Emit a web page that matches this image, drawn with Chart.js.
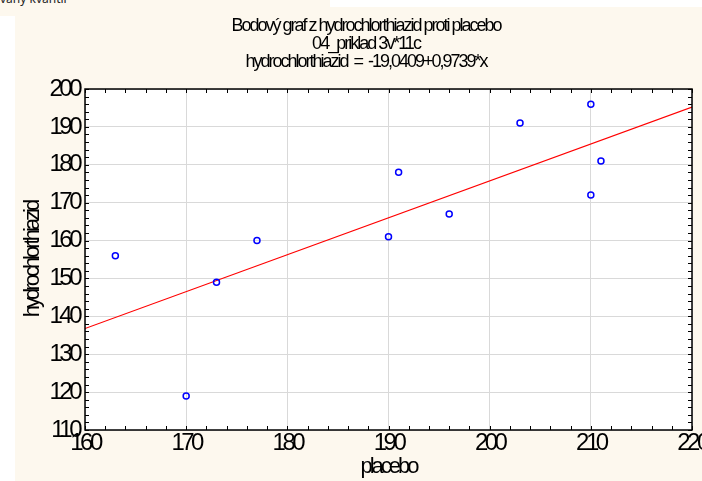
<!DOCTYPE html>
<html>
<head>
<meta charset="utf-8">
<script src="https://cdn.jsdelivr.net/npm/chart.js@4.4.1/dist/chart.umd.min.js"></script>
<style>
html, body { margin: 0; padding: 0; background: #fff; }
#wrap { position: relative; width: 702px; height: 481px; overflow: hidden; }
.bg1 { position: absolute; left: 0; top: 0; width: 330px; height: 16px; background: #fdf8ee; }
.bg2 { position: absolute; left: 15px; top: 7px; right: 0; bottom: 0; background: #fdf8ee; }
#prev { position: absolute; left: 0; top: -8px; font: 12px "Noto Sans", sans-serif; line-height: 14px; color: #222; white-space: nowrap; }
canvas { position: absolute; left: 0; top: 0; }
</style>
</head>
<body>
<div id="wrap">
  <div class="bg1"></div>
  <div class="bg2"></div>
  <div id="prev">vaný kvantil</div>
  <canvas id="scatter" width="702" height="481"></canvas>
</div>
<script>
// data
const placebo = [163, 170, 173, 177, 190, 191, 196, 203, 210, 210, 211];
const hydro   = [156, 119, 149, 160, 161, 178, 167, 191, 196, 172, 181];
// fit from the title
const intercept = -19.0409;
const slope = 0.9739;
const xMin = 160, xMax = 220;
const yMin = 110, yMax = 200;
const titleLines = [
    'Bodový graf z hydrochlorthiazid proti placebo',
    '04_priklad 3v*11c',
    'hydrochlorthiazid  =  -19,0409+0,9739*x'
];

const FONT = '"Liberation Sans", Arial, sans-serif';

const pts = placebo.map((x, i) => ({x: x, y: hydro[i]}));
const fit = [
    {x: xMin, y: intercept + slope * xMin},
    {x: xMax, y: intercept + slope * xMax}
];

// Statistica draws its text squeezed together, so tighten letters by font size
const tight = {
    id: 'tight',
    beforeInit(chart) {
        const ctx = chart.ctx;
        const d = Object.getOwnPropertyDescriptor(CanvasRenderingContext2D.prototype, 'font');
        Object.defineProperty(ctx, 'font', {
            configurable: true,
            get() { return d.get.call(this); },
            set(v) {
                d.set.call(this, v);
                const m = /(\d+(?:\.\d+)?)px/.exec(v);
                const s = m ? parseFloat(m[1]) : 12;
                this.letterSpacing = s >= 24 ? '-3.5px' : s >= 21 ? '-3px' : s >= 17 ? '-2px' : '0px';
            }
        });
    },
    afterLayout(chart) {
        // title is centred on the whole window, not on the padded box
        const t = chart.titleBlock;
        if (t) { t.left += 10; t.right += 10; }
    }
};

// plot frame, white area and small inner ticks
const frame = {
    id: 'frame',
    beforeDraw(chart) {
        const ctx = chart.ctx;
        const a = chart.chartArea;
        ctx.save();
        ctx.fillStyle = '#fff';
        ctx.fillRect(a.left, a.top, a.right - a.left, a.bottom - a.top);
        ctx.restore();
    },
    afterDatasetsDraw(chart) {
        const ctx = chart.ctx;
        const a = chart.chartArea;
        const xs = chart.scales.x, ys = chart.scales.y;
        ctx.save();
        ctx.strokeStyle = '#000';
        ctx.lineWidth = 1;
        ctx.beginPath();
        for (let v = xMin; v <= xMax; v += 2) {
            const p = Math.round(xs.getPixelForValue(v)) + 0.5;
            ctx.moveTo(p, a.bottom); ctx.lineTo(p, a.bottom - 4);
            ctx.moveTo(p, a.top); ctx.lineTo(p, a.top + 4);
        }
        for (let v = yMin; v <= yMax; v += 2) {
            const p = Math.round(ys.getPixelForValue(v)) + 0.5;
            ctx.moveTo(a.left, p); ctx.lineTo(a.left + 4, p);
            ctx.moveTo(a.right, p); ctx.lineTo(a.right - 4, p);
        }
        ctx.stroke();
        ctx.lineWidth = 1.5;
        ctx.strokeRect(a.left, a.top, a.right - a.left, a.bottom - a.top);
        ctx.restore();
    }
};

new Chart(document.getElementById('scatter'), {
    type: 'scatter',
    data: {
        datasets: [
            {
                label: 'hydrochlorthiazid',
                data: pts,
                pointStyle: 'circle',
                pointRadius: 3,
                pointBorderWidth: 1.5,
                borderColor: '#0000ff',
                backgroundColor: 'rgba(0,0,0,0)',
                order: 0
            },
            {
                type: 'line',
                label: 'fit',
                data: fit,
                borderColor: '#ff0000',
                borderWidth: 1.2,
                pointRadius: 0,
                fill: false,
                order: 1
            }
        ]
    },
    options: {
        responsive: false,
        animation: false,
        layout: { padding: { left: 20, right: 10, top: 0, bottom: 0 } },
        plugins: {
            legend: { display: false },
            tooltip: { enabled: false },
            title: {
                display: true,
                text: titleLines,
                color: '#000',
                font: { family: FONT, size: 18, weight: 'normal', lineHeight: 1.0 },
                padding: { top: 17, bottom: 18 }
            }
        },
        scales: {
            x: {
                type: 'linear',
                min: xMin,
                max: xMax,
                grid: { color: '#d9d9d9', drawTicks: false },
                border: { display: false },
                ticks: {
                    stepSize: 10,
                    color: '#000',
                    padding: 1,
                    maxRotation: 0,
                    autoSkip: false,
                    font: { family: FONT, size: 24, lineHeight: 1.0 }
                },
                title: {
                    display: true,
                    text: 'placebo',
                    color: '#000',
                    font: { family: FONT, size: 22 },
                    padding: { top: 0, bottom: 1 }
                },
                afterFit(s) { s.height = 51; s.paddingLeft = 0; s.paddingRight = 0; }
            },
            y: {
                type: 'linear',
                min: yMin,
                max: yMax,
                grid: { color: '#d9d9d9', drawTicks: false },
                border: { display: false },
                ticks: {
                    stepSize: 10,
                    color: '#000',
                    padding: 6,
                    autoSkip: false,
                    font: { family: FONT, size: 24, lineHeight: 1.0 }
                },
                title: {
                    display: true,
                    text: 'hydrochlorthiazid',
                    color: '#000',
                    font: { family: FONT, size: 22 },
                    padding: { top: 0, bottom: 0 }
                },
                afterFit(s) { s.width = 65; s.paddingTop = 0; s.paddingBottom = 0; }
            }
        }
    },
    plugins: [tight, frame]
});
</script>
</body>
</html>
